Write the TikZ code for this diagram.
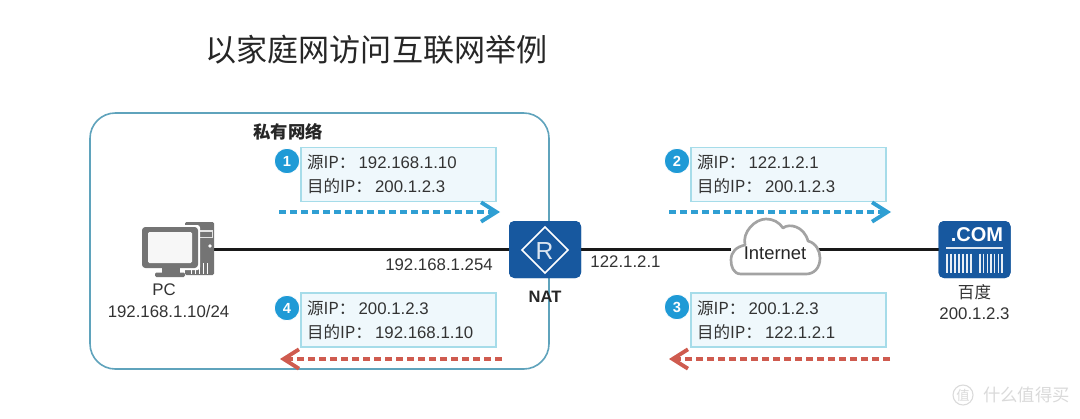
\documentclass[tikz,border=0pt]{standalone}
\usepackage{fontspec}
\setmainfont{Liberation Sans}
\newfontfamily\cjk{Noto Sans CJK SC}
\usetikzlibrary{arrows.meta,shapes.geometric}
\definecolor{txt}{HTML}{333333}
\definecolor{frame}{HTML}{5FA3BC}
\definecolor{boxfill}{HTML}{EFF8FC}
\definecolor{boxline}{HTML}{A6DCE9}
\definecolor{blueflow}{HTML}{2F9FD3}
\definecolor{redflow}{HTML}{CF5B4F}
\definecolor{badge}{HTML}{1F9AD6}
\definecolor{devblue}{HTML}{17589F}
\definecolor{pcgray}{HTML}{747474}
\definecolor{cloudgray}{HTML}{A3A3A3}
\definecolor{wm}{HTML}{DADADA}
\newcommand{\lat}{\fontsize{12.6pt}{18pt}\selectfont}
\newcommand{\han}{\fontsize{12.4pt}{18pt}\selectfont\cjk}
\newcommand{\iprow}[2]{{\han #1}{\lat\hspace{2.4pt}#2}}
\tikzset{
  x=0.75pt,y=-0.75pt,
  every node/.style={text=txt,inner sep=0pt,outer sep=0pt},
  infobox/.style={draw=boxline,fill=boxfill,line width=1.1pt,minimum width=146.25pt,minimum height=40.5pt,
    align=left,text width=137.25pt,inner xsep=4.5pt,font=\lat,execute at begin node={\setlength{\baselineskip}{18pt}}},
  numdot/.style={circle,fill=badge,draw=white,line width=0.6pt,minimum size=19pt,text=white,font=\fontsize{11pt}{12pt}\selectfont\bfseries},
  goflow/.style={draw=blueflow,line width=2.3pt,dash pattern=on 5.5pt off 2.75pt,-{Straight Barb[length=11.5pt,width=14.5pt,line width=2.9pt]}},
  backflow/.style={draw=redflow,line width=2.3pt,dash pattern=on 5.5pt off 2.75pt,-{Straight Barb[length=11.5pt,width=14.5pt,line width=2.9pt]}},
  link/.style={draw=black!90,line width=1.7pt},
  iconbox/.style={rectangle,rounded corners=4pt,fill=devblue,minimum width=54pt,minimum height=42.75pt},
  lbl/.style={font=\lat},
}
\begin{document}
\begin{tikzpicture}
\useasboundingbox (0,0) rectangle (1080,418);
\fill[white] (0,0) rectangle (1080,418);

\node[font=\fontsize{23.3pt}{28pt}\selectfont\cjk,text=black!85] (title) at (376.5,50) {以家庭网访问互联网举例};

% private network
\node[draw=frame,line width=1.2pt,rounded corners=19pt,minimum width=344.25pt,minimum height=192pt] (private) at (319.5,241) {};
\node[font=\fontsize{13pt}{16pt}\selectfont\cjk\bfseries,text=black!85,anchor=west] (privlabel) at (253.5,132) {私有网络};

% named device anchors
\node[minimum width=53.25pt,minimum height=41.25pt] (pc) at (178.5,249.5) {};
\node[iconbox] (nat) at (545,249.5) {};
\node[iconbox] (srv) at (974.5,249.5) {};
\node[minimum width=66pt,minimum height=41.25pt] (cloud) at (775,249.5) {};

% connectors
\draw[link] (pc) -- (nat);
\draw[link] (nat) -- (cloud);
\draw[link] (cloud) -- (srv);

% PC icon
\fill[pcgray,rounded corners=1pt] (185,222) rectangle (214,275);
\fill[white!80!pcgray] (198,230) rectangle (213,238);
\fill[pcgray] (199.5,231.5) rectangle (211.5,236.5);
\fill[white] (210,246) circle (1.8);
\foreach \xx in {191,195,199,203,207}{\fill[white] (\xx,263) rectangle (\xx+1.4,273.5);}
\fill[white,rounded corners=2pt] (140,225) rectangle (200,270);
\fill[pcgray,rounded corners=2.5pt] (142,227) rectangle (198,268);
\fill[white!97!black,rounded corners=1pt] (148,232) rectangle (192,263);
\fill[pcgray] (162,268) rectangle (180,273);
\fill[pcgray,rounded corners=1pt] (155,272.5) rectangle (185,277);

% router icon
\node[iconbox] at (nat) {};
\draw[white,line width=1.3pt,line join=miter] (522,250) -- (545,227) -- (568,250) -- (545,273) -- cycle;
\node[text=white!85!devblue,font=\fontsize{18.5pt}{20pt}\selectfont] (rlet) at (544.5,251) {R};
\node[font=\fontsize{12.4pt}{14pt}\selectfont\bfseries,text=black!85] (natlbl) at (545,297) {NAT};

% cloud
\draw[cloudgray,line width=2pt,fill=white,line join=round]
  (741,274) .. controls (733,274) and (731,266) .. (731,260)
  .. controls (731,252) and (736,247) .. (745,245)
  .. controls (742,232) and (755,219) .. (766,219)
  .. controls (773,219) and (779,222) .. (783,228)
  .. controls (789,223) and (804,226) .. (808,241)
  .. controls (816,243) and (820,251) .. (820,258)
  .. controls (820,268) and (814,274) .. (806,274) -- cycle;
\node[font=\fontsize{13.8pt}{16pt}\selectfont,text=black!85] (cloudtxt) at (775,253) {Internet};

% server icon
\node[iconbox] at (srv) {};
\node[text=white,font=\fontsize{15pt}{18pt}\selectfont\bfseries] (com) at (977,235) {.COM};
\draw[white!85!devblue,line width=1.6pt] (946,248) -- (1003,248);
\foreach \xx in {947,951,955,959,963,967,971,980,983.7,987.4,991,994.7,998.4,1002}{\draw[white!90!devblue,line width=0.95pt] (\xx,253.5) -- (\xx,273);}

% labels
\node[lbl] (pcname) at (164,290) {PC};
\node[lbl] (pcip) at (168.5,311) {192.168.1.10/24};
\node[lbl] (lanip) at (439,265) {192.168.1.254};
\node[lbl] (wanip) at (625.5,262) {122.1.2.1};
\node[font=\han] (bd) at (974.5,292) {百度};
\node[lbl] (bdip) at (974.5,314) {200.1.2.3};

% info boxes
\node[infobox] (b1) at (398.5,174.5) {\iprow{源IP：}{192.168.1.10}\\\iprow{目的IP：}{200.1.2.3}};
\node[infobox] (b2) at (788.5,174.5) {\iprow{源IP：}{122.1.2.1}\\\iprow{目的IP：}{200.1.2.3}};
\node[infobox] (b3) at (788.5,320) {\iprow{源IP：}{200.1.2.3}\\\iprow{目的IP：}{122.1.2.1}};
\node[infobox] (b4) at (398.5,320) {\iprow{源IP：}{200.1.2.3}\\\iprow{目的IP：}{192.168.1.10}};

\node[numdot] (n1) at (287,161) {1};
\node[numdot] (n2) at (677,161) {2};
\node[numdot] (n3) at (677,307) {3};
\node[numdot] (n4) at (287,308) {4};

% flows
\coordinate (f1a) at (279,212); \coordinate (f1b) at (500,212);
\coordinate (f2a) at (669,212); \coordinate (f2b) at (891,212);
\coordinate (f3a) at (890,359); \coordinate (f3b) at (669,359);
\coordinate (f4a) at (502,359); \coordinate (f4b) at (280,359);
\draw[goflow] (f1a) -- (f1b);
\draw[goflow] (f2a) -- (f2b);
\draw[backflow] (f3a) -- (f3b);
\draw[backflow] (f4a) -- (f4b);

% watermark
\node[circle,draw=wm,line width=0.8pt,minimum size=15pt,text=wm,font=\fontsize{10pt}{11pt}\selectfont\cjk] (wmc) at (963,395) {值};
\node[text=wm,font=\fontsize{13pt}{14pt}\selectfont\cjk,anchor=west] (wmt) at (983,395) {什么值得买};
\end{tikzpicture}
\end{document}
